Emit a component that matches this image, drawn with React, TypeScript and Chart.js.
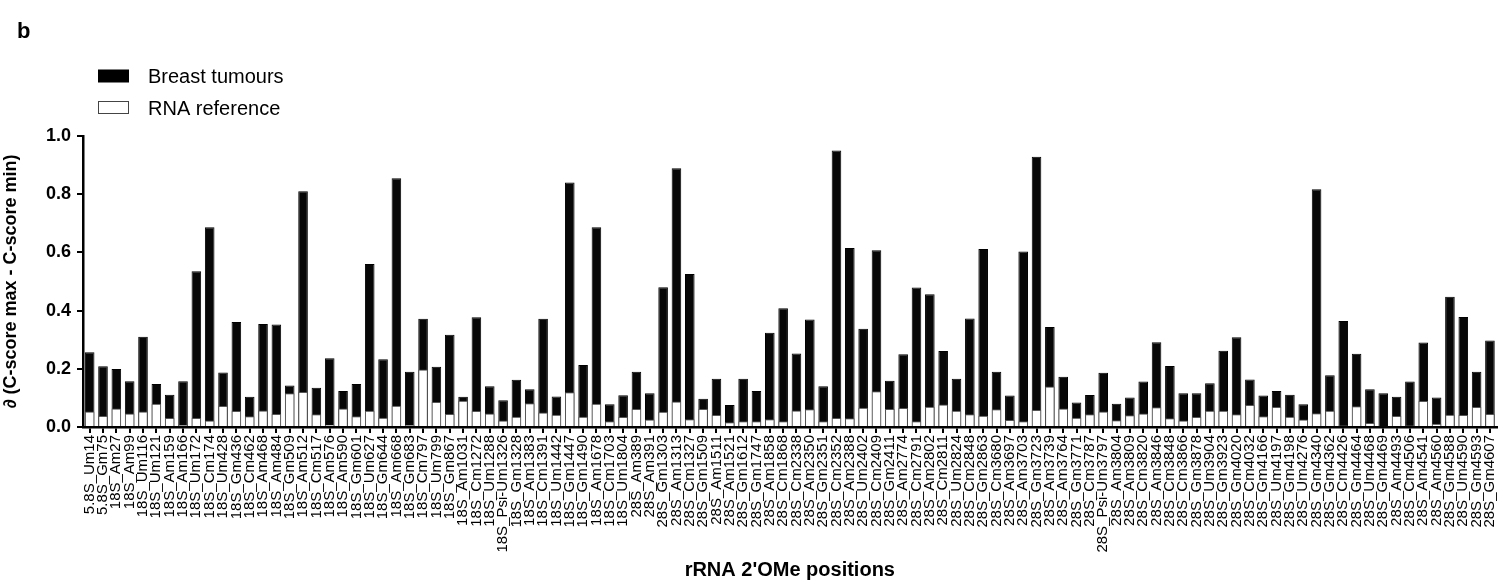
import React, { useEffect, useRef } from 'react';
import { Chart, registerables } from 'chart.js';

Chart.register(...registerables);

const FONT = 'Arial, "Liberation Sans", Helvetica, sans-serif';

const panelLabel = 'b';
const seriesNames = ['Breast tumours', 'RNA reference'];
const xTitle = "rRNA 2'OMe positions";
const yTitle = '∂ (C-score max - C-score min)';
const yTickValues = [0, 0.2, 0.4, 0.6, 0.8, 1.0];

const positions = [
  '5.8S_Um14', '5.8S_Gm75', '18S_Am27', '18S_Am99', '18S_Um116', '18S_Um121', '18S_Am159', '18S_Am166', '18S_Um172', '18S_Cm174',
  '18S_Um428', '18S_Gm436', '18S_Cm462', '18S_Am468', '18S_Am484', '18S_Gm509', '18S_Am512', '18S_Cm517', '18S_Am576', '18S_Am590',
  '18S_Gm601', '18S_Um627', '18S_Gm644', '18S_Am668', '18S_Gm683', '18S_Cm797', '18S_Um799', '18S_Gm867', '18S_Am1031', '18S_Cm1272',
  '18S_Um1288', '18S_Psi-Um1326', '18S_Gm1328', '18S_Am1383', '18S_Cm1391', '18S_Um1442', '18S_Gm1447', '18S_Gm1490', '18S_Am1678', '18S_Cm1703',
  '18S_Um1804', '28S_Am389', '28S_Am391', '28S_Gm1303', '28S_Am1313', '28S_Cm1327', '28S_Gm1509', '28S_Am1511', '28S_Am1521', '28S_Gm1612',
  '28S_Gm1747', '28S_Am1858', '28S_Cm1868', '28S_Cm2338', '28S_Am2350', '28S_Gm2351', '28S_Cm2352', '28S_Am2388', '28S_Um2402', '28S_Cm2409',
  '28S_Gm2411', '28S_Am2774', '28S_Cm2791', '28S_Am2802', '28S_Cm2811', '28S_Um2824', '28S_Cm2848', '28S_Gm2863', '28S_Cm3680', '28S_Am3697',
  '28S_Am3703', '28S_Gm3723', '28S_Am3739', '28S_Am3764', '28S_Gm3771', '28S_Cm3787', '28S_Psi-Um3797', '28S_Am3804', '28S_Am3809', '28S_Cm3820',
  '28S_Am3846', '28S_Cm3848', '28S_Cm3866', '28S_Gm3878', '28S_Um3904', '28S_Gm3923', '28S_Gm4020', '28S_Cm4032', '28S_Gm4166', '28S_Um4197',
  '28S_Gm4198', '28S_Um4276', '28S_Gm4340', '28S_Gm4362', '28S_Cm4426', '28S_Gm4464', '28S_Um4468', '28S_Gm4469', '28S_Am4493', '28S_Cm4506',
  '28S_Am4541', '28S_Am4560', '28S_Gm4588', '28S_Um4590', '28S_Gm4593', '28S_Gm4607',
];

const breastTumours = [
  0.257, 0.209, 0.199, 0.157, 0.31, 0.148, 0.111, 0.157, 0.535, 0.686,
  0.187, 0.361, 0.104, 0.354, 0.352, 0.143, 0.81, 0.135, 0.236, 0.124,
  0.148, 0.56, 0.233, 0.855, 0.19, 0.372, 0.207, 0.317, 0.104, 0.377,
  0.14, 0.092, 0.162, 0.13, 0.372, 0.105, 0.84, 0.213, 0.686, 0.078,
  0.109, 0.19, 0.116, 0.48, 0.889, 0.526, 0.097, 0.166, 0.076, 0.166,
  0.124, 0.324, 0.408, 0.253, 0.369, 0.14, 0.95, 0.615, 0.338, 0.607,
  0.159, 0.25, 0.479, 0.456, 0.261, 0.166, 0.373, 0.612, 0.19, 0.108,
  0.603, 0.929, 0.344, 0.173, 0.084, 0.11, 0.186, 0.08, 0.101, 0.156,
  0.291, 0.21, 0.116, 0.116, 0.15, 0.262, 0.308, 0.163, 0.108, 0.124,
  0.111, 0.078, 0.817, 0.178, 0.364, 0.252, 0.13, 0.116, 0.104, 0.156,
  0.29, 0.101, 0.448, 0.378, 0.19, 0.297,
];

const rnaReference = [
  0.053, 0.038, 0.064, 0.046, 0.053, 0.08, 0.031, 0.007, 0.031, 0.022,
  0.072, 0.055, 0.037, 0.057, 0.045, 0.116, 0.12, 0.044, 0.008, 0.064,
  0.037, 0.056, 0.032, 0.073, 0.007, 0.198, 0.086, 0.045, 0.09, 0.055,
  0.046, 0.022, 0.035, 0.082, 0.05, 0.042, 0.119, 0.035, 0.08, 0.02,
  0.034, 0.062, 0.026, 0.052, 0.088, 0.027, 0.062, 0.041, 0.016, 0.02,
  0.02, 0.027, 0.02, 0.057, 0.061, 0.02, 0.031, 0.03, 0.066, 0.123,
  0.062, 0.065, 0.02, 0.07, 0.077, 0.056, 0.044, 0.039, 0.061, 0.024,
  0.02, 0.058, 0.139, 0.064, 0.032, 0.044, 0.053, 0.023, 0.04, 0.046,
  0.068, 0.03, 0.022, 0.034, 0.056, 0.056, 0.044, 0.076, 0.037, 0.069,
  0.035, 0.026, 0.047, 0.056, 0.005, 0.071, 0.014, 0.003, 0.038, 0.005,
  0.089, 0.011, 0.042, 0.041, 0.069, 0.045,
];

const panelLegendPlugin = {
  id: 'panelLegend',
  afterDraw(chart: any) {
    const ctx = chart.ctx;
    ctx.save();
    ctx.fillStyle = '#000';
    ctx.textBaseline = 'alphabetic';
    ctx.textAlign = 'left';
    ctx.font = `bold 22px ${FONT}`;
    ctx.fillText(panelLabel, 17, 38);
    // legend swatches
    ctx.fillStyle = '#000';
    ctx.fillRect(98, 69.5, 31, 13);
    ctx.fillStyle = '#fff';
    ctx.fillRect(98, 101.5, 31, 12);
    ctx.strokeStyle = '#444';
    ctx.lineWidth = 1;
    ctx.strokeRect(98.5, 101.5, 30, 12);
    ctx.fillStyle = '#000';
    ctx.font = `20px ${FONT}`;
    const ds = chart.data.datasets;
    ctx.fillText(ds[0].label, 148, 83);
    ctx.fillText(ds[1].label, 148, 114.5);
    ctx.restore();
  },
};

export default function App() {
  const canvasRef = useRef<HTMLCanvasElement | null>(null);

  useEffect(() => {
    const canvas = canvasRef.current;
    if (!canvas) return;
    const chart = new Chart(canvas, {
      type: 'bar',
      data: {
        labels: positions,
        datasets: [
          {
            label: seriesNames[0],
            data: breastTumours,
            backgroundColor: '#070707',
            borderColor: '#000',
            borderWidth: 1,
            grouped: false,
            order: 2,
            barPercentage: 0.72,
            categoryPercentage: 1,
          } as any,
          {
            label: seriesNames[1],
            data: rnaReference,
            backgroundColor: '#ffffff',
            borderColor: '#555',
            borderWidth: 1,
            grouped: false,
            order: 1,
            barPercentage: 0.72,
            categoryPercentage: 1,
          } as any,
        ],
      },
      options: {
        responsive: false,
        animation: false,
        layout: { padding: { top: 136, right: 12, left: 0, bottom: 0 } },
        plugins: {
          legend: { display: false },
          tooltip: { enabled: false },
        },
        scales: {
          x: {
            grid: {
              display: true,
              drawOnChartArea: false,
              drawTicks: true,
              tickLength: 6,
              offset: false,
              color: '#000',
              lineWidth: 2,
            },
            border: { display: true, color: '#000', width: 2.5 },
            ticks: {
              autoSkip: false,
              maxRotation: 90,
              minRotation: 90,
              color: '#000',
              padding: 2,
              font: { family: FONT, size: 15 },
            },
            title: {
              display: true,
              text: xTitle,
              color: '#000',
              padding: { top: 0, bottom: 3 },
              font: { family: FONT, size: 20, weight: 'bold' },
            },
            afterFit: (s: any) => {
              s.height = 158;
            },
          },
          y: {
            min: 0,
            max: 1,
            afterBuildTicks: (s: any) => {
              s.ticks = yTickValues.map((v) => ({ value: v }));
            },
            ticks: {
              color: '#000',
              padding: 6,
              font: { family: FONT, size: 18, weight: 'bold' },
              callback: (v: any) => Number(v).toFixed(1),
            },
            grid: {
              display: true,
              drawOnChartArea: false,
              drawTicks: true,
              tickLength: 6,
              color: '#000',
              lineWidth: 2,
            },
            border: { display: true, color: '#000', width: 2.5 },
            title: {
              display: true,
              text: yTitle,
              color: '#000',
              padding: 0,
              font: { family: FONT, size: 18, weight: 'bold' },
            },
            afterFit: (s: any) => {
              s.width = 83;
            },
          },
        },
      } as any,
      plugins: [panelLegendPlugin],
    });
    return () => chart.destroy();
  }, []);

  return (
    <div style={{ position: 'absolute', left: 0, top: 0, width: 1510, height: 585, background: '#fff' }}>
      <canvas ref={canvasRef} width={1510} height={585} style={{ display: 'block', width: 1510, height: 585 }} />
    </div>
  );
}
